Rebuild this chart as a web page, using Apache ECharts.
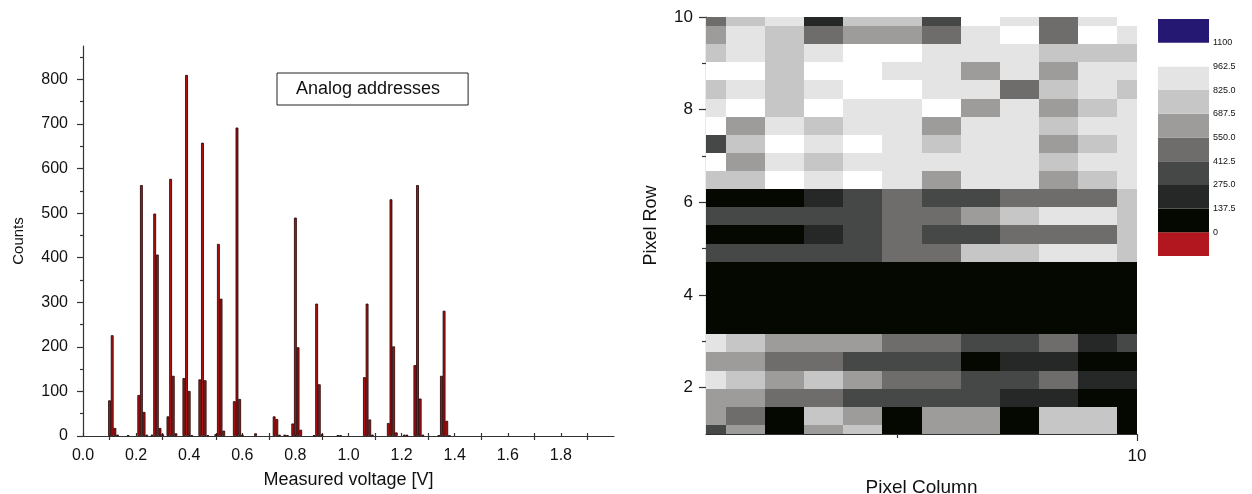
<!DOCTYPE html>
<html>
<head>
<meta charset="utf-8">
<script src="https://cdn.jsdelivr.net/npm/echarts@6/dist/echarts.min.js"></script>
<style>
  html, body { margin: 0; padding: 0; background: #fff; }
  #chart { width: 1252px; height: 494px; }
</style>
</head>
<body>
<div id="chart"></div>
<script>
// ---------- Histogram (left) ----------
const voltages = [
  0.10, 0.11, 0.12, 0.13, 0.17,
  0.21, 0.22, 0.23, 0.24,
  0.26, 0.27, 0.28, 0.29, 0.30,
  0.32, 0.33, 0.34, 0.35,
  0.38, 0.39, 0.40, 0.41,
  0.44, 0.45, 0.46, 0.47,
  0.50, 0.51, 0.52, 0.53,
  0.57, 0.58, 0.59, 0.60, 0.65,
  0.72, 0.73, 0.74, 0.76, 0.77,
  0.79, 0.80, 0.81, 0.82,
  0.87, 0.88, 0.89, 0.90, 0.96, 0.97,
  1.06, 1.07, 1.08, 1.09,
  1.15, 1.16, 1.17, 1.18, 1.21, 1.22,
  1.25, 1.26, 1.27, 1.28,
  1.34, 1.35, 1.36, 1.37, 1.38
];
const counts = [
  80, 226, 18, 3, 2,
  92, 563, 54, 3,
  3, 499, 407, 18, 4,
  44, 577, 135, 6,
  130, 810, 101, 2,
  127, 658, 125, 2,
  4, 431, 308, 12,
  78, 692, 83, 3, 6,
  44, 38, 3, 3, 2,
  28, 490, 199, 14,
  2, 297, 116, 4, 2, 2,
  132, 297, 37, 3,
  29, 531, 201, 8, 3, 3,
  159, 563, 84, 3,
  2, 135, 281, 34, 1
];
const histName = 'Analog addresses';
const xLabelValues = [0, 0.2, 0.4, 0.6, 0.8, 1.0, 1.2, 1.4, 1.6, 1.8];
const xMajorTicks = [0.1, 0.3, 0.5, 0.7, 0.9, 1.1, 1.3, 1.5, 1.7, 1.9];
const xAllTicks = [0, 0.1, 0.2, 0.3, 0.4, 0.5, 0.6, 0.7, 0.8, 0.9, 1.0, 1.1, 1.2, 1.3, 1.4, 1.5, 1.6, 1.7, 1.8, 1.9];
const yLabelValues = [0, 100, 200, 300, 400, 500, 600, 700, 800];
const yMinorTicks = [50, 150, 250, 350, 450, 550, 650, 750, 850];

// ---------- Pixel map (right) ----------
// rows listed from top (Pixel Row 10) to bottom (Pixel Row 1); 12 columns each
const pixelRows = [
  [480, 755, 895, 205, 755, 755, 345, 1030, 895, 480, 895, 1030],
  [620, 895, 755, 480, 620, 620, 480, 895, 1030, 480, 1030, 895],
  [755, 895, 755, 895, 1030, 1030, 895, 895, 895, 755, 755, 755],
  [1030, 1030, 755, 1030, 1030, 895, 895, 620, 895, 620, 895, 895],
  [755, 895, 755, 895, 1030, 1030, 895, 895, 480, 755, 895, 755],
  [895, 1030, 755, 1030, 895, 895, 1030, 620, 895, 620, 755, 895],
  [1030, 620, 895, 755, 895, 895, 620, 895, 895, 755, 895, 895],
  [345, 755, 1030, 895, 1030, 895, 755, 895, 895, 620, 755, 895],
  [1030, 620, 895, 755, 895, 895, 895, 895, 895, 755, 895, 895],
  [755, 755, 1030, 895, 1030, 895, 620, 895, 895, 620, 755, 895],
  [70, 70, 70, 205, 345, 480, 345, 345, 480, 480, 480, 755],
  [345, 345, 345, 345, 345, 480, 480, 620, 755, 895, 895, 755],
  [70, 70, 70, 205, 345, 480, 345, 345, 480, 480, 480, 755],
  [345, 345, 345, 345, 345, 480, 480, 755, 755, 895, 895, 755],
  [70, 70, 70, 70, 70, 70, 70, 70, 70, 70, 70, 70],
  [70, 70, 70, 70, 70, 70, 70, 70, 70, 70, 70, 70],
  [70, 70, 70, 70, 70, 70, 70, 70, 70, 70, 70, 70],
  [70, 70, 70, 70, 70, 70, 70, 70, 70, 70, 70, 70],
  [895, 755, 620, 620, 620, 480, 480, 345, 345, 480, 205, 345],
  [620, 620, 480, 480, 345, 345, 345, 70, 205, 205, 70, 70],
  [895, 755, 620, 755, 620, 480, 480, 345, 345, 480, 205, 205],
  [620, 620, 480, 480, 345, 345, 345, 345, 205, 205, 70, 70],
  [620, 480, 70, 755, 620, 70, 620, 620, 70, 755, 755, 70],
  [345, 620, 70, 620, 755, 70, 620, 620, 70, 755, 755, 70]
];
const imageXRange = [1, 10];
const imageYRange = [1, 10];
const rowLabelValues = [2, 4, 6, 8, 10];
const rowMinorTicks = [3, 5, 7, 9];
const colLabelValues = [10];
const colMinorTicks = [5];

// colour scale
const levelBounds = [0, 137.5, 275, 412.5, 550, 687.5, 825, 962.5, 1100];
const levelLabels = ['0', '137.5', '275.0', '412.5', '550.0', '687.5', '825.0', '962.5', '1100'];
const belowColor = '#b2161e';
const levelColors = ['#050800', '#262827', '#464847', '#6e6d6b', '#9d9c9a', '#c6c6c6', '#e4e4e4', '#ffffff'];
const aboveColor = '#251873';

// ---------- build ----------
const FONT = '"Liberation Sans", Arial, sans-serif';
const TXT = '#111';
const AXC = '#333';

const histData = voltages.map((v, i) => [v, counts[i]]);

const nRows = pixelRows.length, nCols = pixelRows[0].length;
const dx = (imageXRange[1] - imageXRange[0]) / (nCols - 1);
const dy = (imageYRange[1] - imageYRange[0]) / (nRows - 1);
const pixelData = [];
pixelRows.forEach((row, r) => {
  const j = nRows - 1 - r;
  row.forEach((val, c) => {
    pixelData.push([imageXRange[0] + c * dx, imageYRange[0] + j * dy, val]);
  });
});

const pieces = [{ lt: levelBounds[0], color: belowColor }];
for (let k = 0; k < levelBounds.length - 1; k++) {
  pieces.push({ gte: levelBounds[k], lt: levelBounds[k + 1], color: levelColors[k] });
}
pieces.push({ gte: levelBounds[levelBounds.length - 1], color: aboveColor });

const step = levelBounds[1] - levelBounds[0];
const legendSeries = [];
legendSeries.push({ name: 'below', type: 'bar', stack: 'scale', xAxisIndex: 4, yAxisIndex: 4,
  data: [-step], itemStyle: { color: belowColor }, barWidth: '100%', silent: true });
levelColors.forEach((c, k) => {
  legendSeries.push({ name: 'lvl' + k, type: 'bar', stack: 'scale', xAxisIndex: 4, yAxisIndex: 4,
    data: [levelBounds[k + 1] !== undefined ? levelBounds[k + 1] - levelBounds[k] : step],
    itemStyle: { color: c }, barWidth: '100%', silent: true });
});
legendSeries.push({ name: 'above', type: 'bar', stack: 'scale', xAxisIndex: 4, yAxisIndex: 4,
  data: [step], itemStyle: { color: aboveColor }, barWidth: '100%', silent: true });

const chart = echarts.init(document.getElementById('chart'), null, { renderer: 'canvas' });

const noLine = { show: false };
const option = {
  animation: false,
  backgroundColor: '#fff',
  textStyle: { fontFamily: FONT, color: TXT },
  legend: {
    data: [histName],
    left: 277, top: 73,
    icon: 'rect', itemWidth: 0, itemHeight: 14, itemGap: 0,
    itemStyle: { opacity: 0, borderWidth: 0 },
    padding: [6, 28, 6, 14],
    borderColor: '#222', borderWidth: 1, backgroundColor: '#fff',
    selectedMode: false,
    textStyle: { fontSize: 18, color: TXT, fontFamily: FONT, lineHeight: 20 }
  },
  visualMap: {
    type: 'piecewise', show: false, seriesIndex: 1, dimension: 2, pieces: pieces
  },
  grid: [
    { left: 83, right: 638, top: 46, bottom: 58, containLabel: false, outerBoundsMode: 'none' },
    { left: 706, right: 115, top: 17, bottom: 60, containLabel: false, outerBoundsMode: 'none' },
    { left: 1158, width: 51, top: 19, height: 237, containLabel: false, outerBoundsMode: 'none' }
  ],
  xAxis: [
    { gridIndex: 0, type: 'value', min: 0, max: 2, interval: 0.2, position: 'bottom',
      axisLine: { onZero: false, lineStyle: { color: AXC, width: 1.2 } },
      axisTick: { customValues: xMajorTicks, length: 4, lineStyle: { color: AXC, width: 1.2 } },
      axisLabel: { customValues: xLabelValues, formatter: v => v.toFixed(1), fontSize: 16, color: TXT, margin: 12, fontFamily: FONT },
      splitLine: noLine,
      name: 'Measured voltage [V]', nameLocation: 'middle', nameGap: 35,
      nameTextStyle: { fontSize: 18, color: TXT, fontFamily: FONT } },
    { gridIndex: 0, type: 'value', min: 0, max: 2, interval: 0.2, position: 'bottom',
      axisLine: { show: false, onZero: false },
      axisTick: { inside: true, customValues: xAllTicks, length: 3, lineStyle: { color: AXC, width: 1.2 } },
      axisLabel: { show: false }, splitLine: noLine },
    { gridIndex: 1, type: 'value', min: imageXRange[0], max: imageXRange[1], position: 'bottom',
      axisLine: { onZero: false, lineStyle: { color: AXC, width: 1.2 } },
      axisTick: { customValues: colLabelValues, length: 7, lineStyle: { color: AXC, width: 1.2 } },
      axisLabel: { customValues: colLabelValues, fontSize: 17, color: TXT, margin: 14, fontFamily: FONT },
      splitLine: noLine,
      name: 'Pixel Column', nameLocation: 'middle', nameGap: 44,
      nameTextStyle: { fontSize: 19, color: TXT, fontFamily: FONT } },
    { gridIndex: 1, type: 'value', min: imageXRange[0], max: imageXRange[1], position: 'bottom',
      axisLine: { show: false, onZero: false },
      axisTick: { customValues: colMinorTicks, length: 4, lineStyle: { color: AXC, width: 1.2 } },
      axisLabel: { show: false }, splitLine: noLine },
    { gridIndex: 2, type: 'category', data: ['scale'], show: false, boundaryGap: true }
  ],
  yAxis: [
    { gridIndex: 0, type: 'value', min: 0, max: 875, position: 'left',
      axisLine: { show: true, onZero: false, lineStyle: { color: AXC, width: 1.2 } },
      axisTick: { show: true, customValues: yLabelValues, length: 6, lineStyle: { color: AXC, width: 1.2 } },
      axisLabel: { customValues: yLabelValues, fontSize: 16, color: TXT, margin: 15, fontFamily: FONT },
      splitLine: noLine,
      name: 'Counts', nameLocation: 'middle', nameGap: 57,
      nameTextStyle: { fontSize: 15, color: TXT, fontFamily: FONT } },
    { gridIndex: 0, type: 'value', min: 0, max: 875, position: 'left',
      axisLine: { show: false, onZero: false },
      axisTick: { show: true, customValues: yMinorTicks, length: 3, lineStyle: { color: AXC, width: 1.2 } },
      axisLabel: { show: false }, splitLine: noLine },
    { gridIndex: 1, type: 'value', min: imageYRange[0], max: imageYRange[1], position: 'left',
      axisLine: { show: true, onZero: false, lineStyle: { color: AXC, width: 1.2 } },
      axisTick: { show: true, customValues: rowLabelValues, length: 7, lineStyle: { color: AXC, width: 1.2 } },
      axisLabel: { customValues: rowLabelValues, fontSize: 17, color: TXT, margin: 13, fontFamily: FONT },
      splitLine: noLine,
      name: 'Pixel Row', nameLocation: 'middle', nameGap: 46,
      nameTextStyle: { fontSize: 18, color: TXT, fontFamily: FONT } },
    { gridIndex: 1, type: 'value', min: imageYRange[0], max: imageYRange[1], position: 'left',
      axisLine: { show: false, onZero: false },
      axisTick: { show: true, customValues: rowMinorTicks, length: 4, lineStyle: { color: AXC, width: 1.2 } },
      axisLabel: { show: false }, splitLine: noLine },
    { gridIndex: 2, type: 'value', min: -step, max: levelBounds[levelBounds.length - 1] + step, interval: step,
      position: 'right',
      axisLine: { show: false }, axisTick: { show: false }, splitLine: noLine,
      axisLabel: { customValues: levelBounds, fontSize: 9, color: TXT, margin: 4, fontFamily: FONT,
        formatter: v => { const k = levelBounds.indexOf(v); return k >= 0 ? levelLabels[k] : ''; } } }
  ],
  series: [
    { name: histName, type: 'bar', xAxisIndex: 0, yAxisIndex: 0, data: histData,
      barWidth: 2.8, barGap: '-100%',
      itemStyle: { color: '#b31212', borderColor: '#1a0000', borderWidth: 0.8 } },
    { name: 'pixels', type: 'custom', xAxisIndex: 2, yAxisIndex: 2, data: pixelData,
      renderItem: function (params, api) {
        const cx = api.value(0), cy = api.value(1);
        const p0 = api.coord([cx - dx / 2, cy + dy / 2]);
        const p1 = api.coord([cx + dx / 2, cy - dy / 2]);
        const x0 = Math.round(p0[0]), y0 = Math.round(p0[1]);
        const x1 = Math.round(p1[0]), y1 = Math.round(p1[1]);
        const cs = params.coordSys;
        const shape = echarts.graphic.clipRectByRect(
          { x: x0, y: y0, width: x1 - x0, height: y1 - y0 },
          { x: cs.x, y: cs.y, width: cs.width, height: cs.height });
        if (!shape) return;
        return { type: 'rect', shape: shape, style: { fill: api.visual('color') } };
      } }
  ].concat(legendSeries)
};
chart.setOption(option);
</script>
</body>
</html>
